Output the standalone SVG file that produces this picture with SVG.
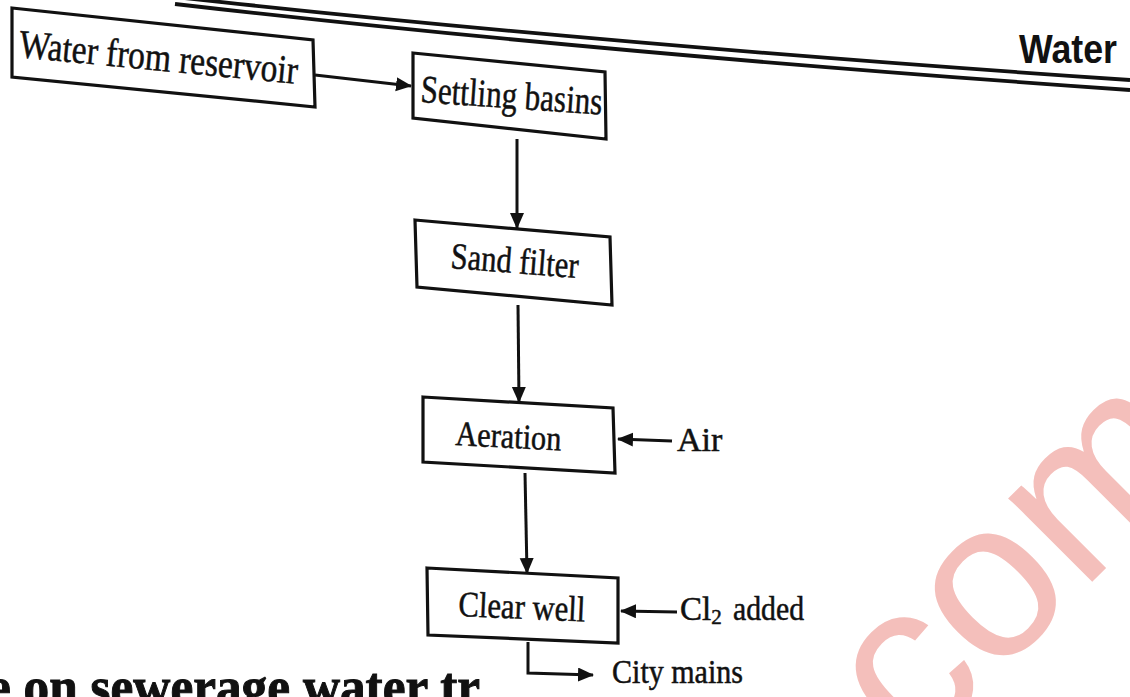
<svg xmlns="http://www.w3.org/2000/svg" width="1130" height="697" viewBox="0 0 1130 697">
  <defs>
    <marker id="ah" markerUnits="userSpaceOnUse" markerWidth="18" markerHeight="16" refX="15" refY="7" orient="auto">
      <path d="M0,0 L16,7 L0,14 Z" fill="#111"/>
    </marker>
    <style>
      .box { fill: #fff; stroke: #111; stroke-width: 3.2; stroke-linejoin: miter; }
      .lbl { font-family: "Liberation Serif", "Times New Roman", serif; fill: #111; stroke: #111; stroke-width: 0.5; }
      .conn { fill: none; stroke: #111; stroke-width: 3; }
      .rule { fill: none; stroke: #111; stroke-width: 3.8; }
    </style>
  </defs>
  <rect width="1130" height="697" fill="#fff"/>

  <!-- page header -->
  <g id="header">
    <path class="rule" d="M175,-3 Q600,44 1130,80"/>
    <path class="rule" d="M175,4 Q600,53 1130,90"/>
    <text x="1019" y="63" font-family="Liberation Sans, Arial, sans-serif" font-weight="bold" font-size="40" textLength="98" lengthAdjust="spacingAndGlyphs" fill="#111">Water</text>
  </g>

  <!-- connectors -->
  <g id="connectors">
    <path class="conn" d="M315,75 L411,86" marker-end="url(#ah)"/>
    <path class="conn" d="M517,139 L517,228" marker-end="url(#ah)"/>
    <path class="conn" d="M518,305 L519,402" marker-end="url(#ah)"/>
    <path class="conn" d="M525,473 L527,573" marker-end="url(#ah)"/>
    <path class="conn" d="M672,441 L618,439" marker-end="url(#ah)"/>
    <path class="conn" d="M677,612 L621,611" marker-end="url(#ah)"/>
    <path class="conn" d="M528,642 L528,673 L593,675" marker-end="url(#ah)"/>
  </g>

  <g id="node-reservoir">
    <polygon class="box" points="12,8 313,40 315,107 12,77"/>
    <text class="lbl" font-size="40" textLength="280" lengthAdjust="spacingAndGlyphs" transform="translate(18,57) rotate(5.5)">Water from reservoir</text>
  </g>

  <g id="node-settling">
    <polygon class="box" points="413,53 605,72 606,139 413,118"/>
    <text class="lbl" font-size="39" textLength="182" lengthAdjust="spacingAndGlyphs" transform="translate(420,102) rotate(4)">Settling basins</text>
  </g>

  <g id="node-sand">
    <polygon class="box" points="415,220 610,237 612,305 417,287"/>
    <text class="lbl" font-size="37" textLength="128" lengthAdjust="spacingAndGlyphs" transform="translate(450,268) rotate(4.5)">Sand filter</text>
  </g>

  <g id="node-aeration">
    <polygon class="box" points="423,397 613,408 615,473 423,462"/>
    <text class="lbl" font-size="35" textLength="106" lengthAdjust="spacingAndGlyphs" transform="translate(455,445) rotate(3)">Aeration</text>
  </g>

  <g id="node-clearwell">
    <polygon class="box" points="427,568 618,578 618,643 428,635"/>
    <text class="lbl" font-size="36" textLength="127" lengthAdjust="spacingAndGlyphs" transform="translate(458,616) rotate(2.5)">Clear well</text>
  </g>

  <g id="label-air">
    <text class="lbl" x="677" y="451" font-size="34">Air</text>
  </g>

  <g id="label-cl2">
    <text class="lbl" x="680" y="620" font-size="33">Cl<tspan font-size="21" dy="4">2</tspan><tspan dy="-4" x="733" textLength="71" lengthAdjust="spacingAndGlyphs">added</tspan></text>
  </g>

  <g id="label-city">
    <text class="lbl" x="612" y="683" font-size="33" textLength="131" lengthAdjust="spacingAndGlyphs">City mains</text>
  </g>

  <!-- cut-off body heading at page bottom -->
  <text x="-12" y="705" font-family="Liberation Serif, serif" font-weight="bold" font-size="54" textLength="492" lengthAdjust="spacingAndGlyphs" fill="#111" stroke="#111" stroke-width="1">e on sewerage water tr</text>

  <!-- watermark -->
  <text transform="translate(914,760) rotate(-45)" font-family="Liberation Sans, Arial, sans-serif" font-size="224" fill="#f4bfbb">com</text>
</svg>
